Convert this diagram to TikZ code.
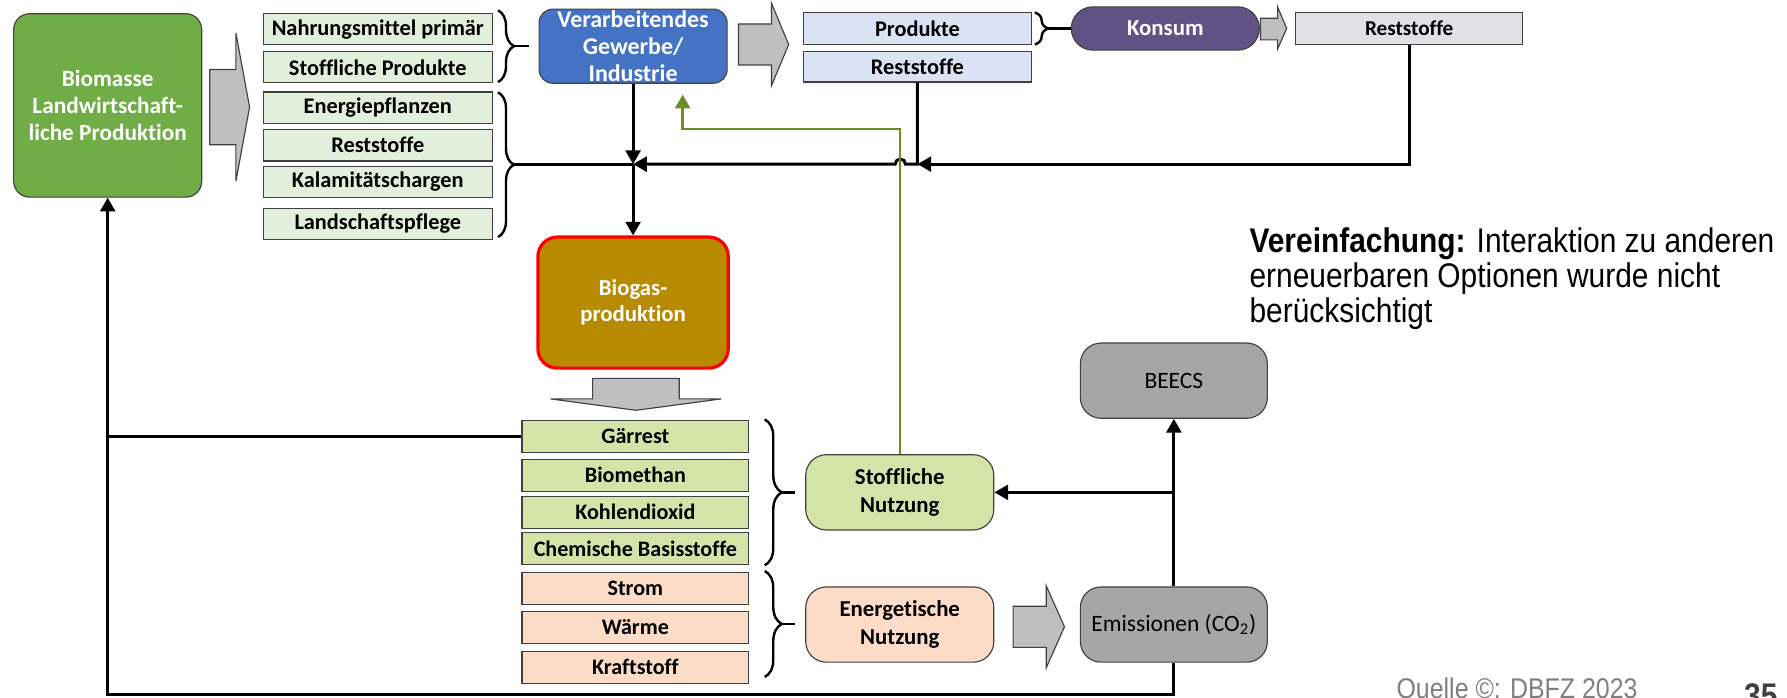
\documentclass[tikz,border=0pt]{standalone}
\usepackage{fontspec}
\setmainfont{Carlito}[Ligatures=NoCommon]
\newfontfamily\notefont[FakeStretch=0.875]{Liberation Sans}
\usetikzlibrary{arrows.meta,decorations.pathreplacing,calc}

\definecolor{bioGreen}{HTML}{70AD47}
\definecolor{listGreen}{HTML}{E2EFDA}
\definecolor{indBlue}{HTML}{4472C4}
\definecolor{prodBlue}{HTML}{DAE3F3}
\definecolor{konPurple}{HTML}{5F5386}
\definecolor{restGray}{HTML}{E0E0E6}
\definecolor{gasGold}{HTML}{B88A00}
\definecolor{useGreen}{HTML}{D6E3A8}
\definecolor{usePeach}{HTML}{FCDBC7}
\definecolor{emGray}{HTML}{A6A6A6}
\definecolor{blockGray}{HTML}{BFBFBF}
\definecolor{oliveLine}{HTML}{6A8C2B}
\definecolor{edgeGray}{HTML}{404040}
\definecolor{noteGray}{HTML}{7F7F7F}

\begin{document}
\begin{tikzpicture}[x=0.5pt,y=-0.5pt,
  box/.style={draw=edgeGray, line width=0.5pt, inner sep=0pt, align=center},
  item/.style={box, minimum width=100.5pt, minimum height=13.75pt,
    font=\bfseries\fontsize{9.8}{11}\selectfont},
  lowitem/.style={box, minimum width=99.5pt, minimum height=14pt,
    font=\bfseries\fontsize{9.7}{11}\selectfont},
  usebox/.style={box, minimum width=82.5pt, minimum height=33pt, rounded corners=9pt,
    font=\bfseries\fontsize{10}{12}\selectfont},
  greybox/.style={box, fill=emGray, minimum width=82pt, minimum height=33pt, rounded corners=9pt,
    font=\fontsize{10.3}{12}\selectfont},
  wire/.style={line width=1.3pt},
  tip/.style={-{Triangle[length=6pt,width=6.5pt]}},
  greenwire/.style={line width=1.1pt, draw=oliveLine, -{Triangle[length=6pt,width=6.5pt]}},
  rbrace/.style={line width=1.05pt, decorate, decoration={brace, amplitude=#1}},
  stub/.style={line width=1.05pt},
  blockarrow/.style={fill=blockGray, draw=edgeGray, line width=0.5pt}
]
\useasboundingbox (0,0) rectangle (1568,612);

% --- Biomass source ---
\node[box, fill=bioGreen, text=white, minimum width=82.5pt, minimum height=80.5pt,
  rounded corners=7pt, font=\bfseries\fontsize{10.2}{12}\selectfont]
  (bio) at (94.5,92.5) {Biomasse\\Landwirtschaft-\\liche Produktion};
\draw[blockarrow] (184,61) -- (207,61) -- (207,29) -- (219,94) -- (207,159) -- (207,127) -- (184,127) -- cycle;

% --- biomass fractions ---
\node[item, fill=listGreen] (nm) at (331.5,25.5) {Nahrungsmittel primär};
\node[item, fill=listGreen] (sp) at (331.5,59) {Stoffliche Produkte};
\node[item, fill=listGreen] (ep) at (331.5,94.5) {Energiepflanzen};
\node[item, fill=listGreen] (rs1) at (331.5,127.5) {Reststoffe};
\node[item, fill=listGreen] (ka) at (331.5,159.5) {Kalamitätschargen};
\node[item, fill=listGreen] (lp) at (331.5,196.5) {Landschaftspflege};

% --- industry and consumption ---
\node[box, fill=indBlue, text=white, minimum width=82.5pt, minimum height=32.5pt,
  rounded corners=6pt, font=\bfseries\fontsize{10.5}{11.7}\selectfont]
  (ind) at (555.5,40.5) {Verarbeitendes\\Gewerbe/\\Industrie};
\draw[blockarrow] (648,21) -- (677,21) -- (677,3) -- (692,39) -- (677,75) -- (677,57) -- (648,57) -- cycle;
\node[item, fill=prodBlue, minimum width=100pt, minimum height=14pt] (prod) at (805,25) {Produkte};
\node[item, fill=prodBlue, minimum width=100pt, minimum height=13.5pt] (rs2) at (805,58.5) {Reststoffe};
\node[box, fill=konPurple, text=white, minimum width=82.5pt, minimum height=19pt,
  rounded corners=9.5pt, font=\bfseries\fontsize{10}{12}\selectfont]
  (kon) at (1022.5,25) {Konsum};
\draw[blockarrow] (1106,16) -- (1121,16) -- (1121,6) -- (1129,25) -- (1121,43) -- (1121,35) -- (1106,35) -- cycle;
\node[item, fill=restGray, minimum width=99.5pt, minimum height=14pt,
  font=\bfseries\fontsize{9.3}{11}\selectfont] (rs3) at (1236.5,25) {Reststoffe};

% --- biogas plant ---
\node[box, fill=gasGold, draw=red, line width=1.4pt, text=white, minimum width=83.5pt,
  minimum height=57.5pt, rounded corners=8.5pt, font=\bfseries\fontsize{10}{11.5}\selectfont]
  (bg) at (555.5,265.5) {Biogas-\\produktion};
\draw[blockarrow] (520,332) -- (596,332) -- (596,350) -- (633,350) -- (558,360) -- (483,350) -- (520,350) -- cycle;

% --- biogas outputs ---
\node[lowitem, fill=useGreen] (gr) at (557.5,383) {Gärrest};
\node[lowitem, fill=useGreen] (bm) at (557.5,417) {Biomethan};
\node[lowitem, fill=useGreen] (kd) at (557.5,449.5) {Kohlendioxid};
\node[lowitem, fill=useGreen] (cb) at (557.5,481.5) {Chemische Basisstoffe};
\node[lowitem, fill=usePeach] (st) at (557.5,516.5) {Strom};
\node[lowitem, fill=usePeach] (wa) at (557.5,550.5) {Wärme};
\node[lowitem, fill=usePeach] (kr) at (557.5,585.5) {Kraftstoff};

% --- uses and emissions ---
\node[usebox, fill=useGreen] (sn) at (789.5,432) {Stoffliche\\Nutzung};
\node[usebox, fill=usePeach] (en) at (789.5,548) {Energetische\\Nutzung};
\draw[blockarrow] (889,532) -- (918,532) -- (918,514) -- (934,550) -- (918,586) -- (918,568) -- (889,568) -- cycle;
\node[greybox] (em) at (1030,548) {Emissionen (CO\textsubscript{2})};
\node[greybox] (be) at (1030,334) {BEECS};

% --- braces ---
\draw[rbrace=7pt] (437,9) -- (437,72);
\coordinate (b1tip) at (451,40.5);
\coordinate (b1end) at (464,40.5);
\draw[stub] (b1tip) -- (b1end);
\draw[rbrace=7pt] (437,81) -- (437,208);
\coordinate (b2tip) at (451,144);
\draw[rbrace=6pt] (908,11) -- (908,39);
\coordinate (b3tip) at (920,25);
\draw[stub] (b3tip) -- (kon.west);
\draw[rbrace=7.5pt] (671,368) -- (671,496);
\coordinate (b4tip) at (686,432);
\coordinate (b4end) at (698,432);
\draw[stub] (b4tip) -- (b4end);
\draw[rbrace=7.5pt] (671,501) -- (671,594);
\coordinate (b5tip) at (686,547.5);
\coordinate (b5end) at (698,547.5);
\draw[stub] (b5tip) -- (b5end);

% --- residue collection line ---
\coordinate (jn) at (555.5,144);
\coordinate (rsj) at (805,144);
\draw[wire] (b2tip) -- (jn);
\draw[wire,tip] (ind.south) -- (jn);
\draw[wire,tip] (jn) -- (bg.north);
\draw[wire,tip] (rs3.south) |- (rsj);
\draw[wire,tip] (rs2.south) -- (rsj) -- (794.5,144)
  arc[start angle=0, end angle=180, radius=2.25pt] -- (jn);

% --- material use back to industry ---
\coordinate (gk) at (599,113);
\coordinate (gtip) at (599,83);
\draw[greenwire] (sn.north) |- (gk) -- (gtip);

% --- emission paths ---
\draw[wire,tip] (em.north) -- (be.south);
\draw[wire,tip] (em.north |- sn.east) -- (sn.east);
\coordinate (loop) at (1030,609);
\draw[wire,tip] (em.south) -- (loop) -| (bio.south);
\draw[wire] (gr.west) -- (gr.west -| bio.south);

% --- notes ---
\node[anchor=north west, align=left, inner sep=0pt,
  font=\notefont\fontsize{15}{15.5}\selectfont] (note) at (1096,199)
  {\textbf{Vereinfachung:} Interaktion zu anderen\\erneuerbaren Optionen wurde nicht\\berücksichtigt};
\node[anchor=base west, inner sep=0pt, text=noteGray,
  font=\notefont\fontsize{12.5}{14}\selectfont] (src) at (1225,612.5) {Quelle ©: DBFZ 2023};
\node[anchor=base west, inner sep=0pt, text=edgeGray,
  font=\notefont\bfseries\fontsize{15}{16}\selectfont] (pg) at (1530,621) {35};
\end{tikzpicture}
\end{document}
